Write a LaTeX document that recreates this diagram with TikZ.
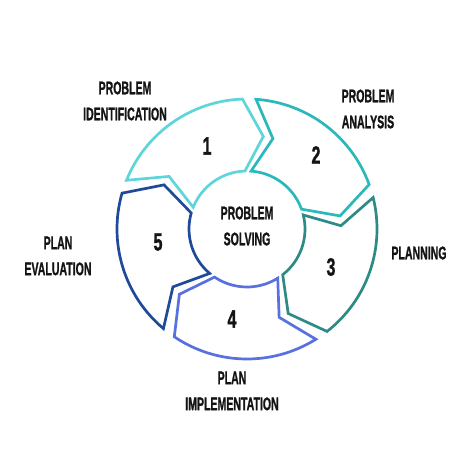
\documentclass[tikz,border=0pt]{standalone}
\usepackage{fontspec}
\setmainfont{Liberation Sans}
\newfontfamily\heavy[FakeBold=1.6]{Liberation Sans Bold}
\definecolor{cA}{HTML}{5ED5D8}
\definecolor{cB}{HTML}{2AB8BA}
\definecolor{cC}{HTML}{2E8A85}
\definecolor{cD}{HTML}{5870E0}
\definecolor{cE}{HTML}{1F4A9A}
\definecolor{ink}{HTML}{141414}
\newcommand\cz[1]{\scalebox{0.58}[1]{#1}}
\newcommand\cn[1]{\scalebox{0.64}[1]{#1}}
\tikzset{
  segline/.style={line width=2.7pt, line join=miter, fill=white},
  lbl/.style={align=center, text=ink, font=\fontsize{18.2}{26}\selectfont\heavy, inner sep=0pt},
  num/.style={text=ink, font=\fontsize{25}{28}\selectfont\heavy, inner sep=0pt}
}
\begin{document}
\begin{tikzpicture}[x=1pt,y=1pt]
\useasboundingbox (0,0) rectangle (474,474);
\begin{scope}[shift={(247,245)}]
\foreach \k/\col in {1/cA,2/cB,3/cC,4/cD,5/cE}{
  \pgfmathsetmacro{\a}{158-72*(\k-1)}
  \pgfmathsetmacro{\b}{\a-66}
  \pgfmathsetmacro{\bt}{\b-12}
  \pgfmathsetmacro{\an}{\a-12}
  \draw[segline, draw=\col] (\a:130pt) arc[start angle=\a, end angle=\b, radius=130pt]
     -- (\bt:94pt) -- (\b:58pt) arc[start angle=\b, end angle=\a, radius=58pt]
     -- (\an:94pt) -- cycle;
}
\end{scope}
\node[num] (n1) at (207,328) {\cn{1}};
\node[num] (n2) at (316,319) {\cn{2}};
\node[num] (n3) at (331,207) {\cn{3}};
\node[num] (n4) at (232,155) {\cn{4}};
\node[num] (n5) at (158,232) {\cn{5}};
\node[lbl] (ctr) at (247,248) {\cz{PROBLEM}\\\cz{SOLVING}};
\node[lbl] (l1) at (125,373) {\cz{PROBLEM}\\\cz{IDENTIFICATION}};
\node[lbl] (l2) at (368,365) {\cz{PROBLEM}\\\cz{ANALYSIS}};
\node[lbl] (l3) at (419,221) {\cz{PLANNING}};
\node[lbl] (l4) at (232,83) {\cz{PLAN}\\\cz{IMPLEMENTATION}};
\node[lbl] (l5) at (58,218) {\cz{PLAN}\\\cz{EVALUATION}};
\end{tikzpicture}
\end{document}
